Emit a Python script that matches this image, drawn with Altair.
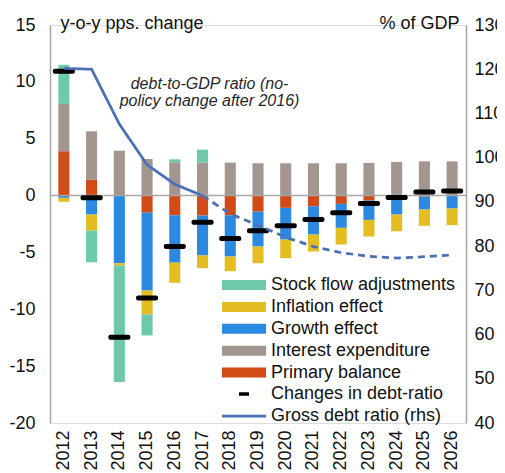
import altair as alt
import pandas as pd

# ---------------- data ----------------
years = [str(y) for y in range(2012, 2027)]
primary_balance = [3.9, 1.38, 0.0, -1.5, -1.73, -1.76, -1.73, -1.41, -1.08, -0.94, -0.73, -0.44, 0.0, -0.1, 0.0]
interest_exp = [4.16, 4.27, 3.95, 3.22, 2.93, 2.9, 2.9, 2.84, 2.84, 2.84, 2.84, 2.87, 2.96, 3.01, 3.01]
growth_eff = [-0.2, -1.67, -5.95, -6.85, -4.17, -3.51, -3.63, -3.07, -2.79, -2.49, -2.11, -1.7, -1.67, -1.13, -1.14]
inflation_eff = [-0.35, -1.4, -0.2, -2.1, -1.77, -1.12, -1.29, -1.47, -1.63, -1.49, -1.46, -1.46, -1.47, -1.43, -1.46]
stock_flow = [3.44, -2.8, -10.25, -1.85, 0.26, 1.14, 0, 0, 0, 0, 0, 0, 0, 0, 0]
debt_change = [10.93, -0.2, -12.45, -9.0, -4.48, -2.34, -3.78, -3.1, -2.66, -2.1, -1.5, -0.7, -0.18, 0.32, 0.41]
gross_debt = [120.2, 120.0, 107.6, 98.4, 94.0, 91.4, 87.3, 84.7, 82.0, 79.9, 78.5, 77.7, 77.3, 77.6, 78.0]
last_actual = "2017"

stack_names = ["Primary balance", "Interest expenditure", "Growth effect", "Inflation effect", "Stock flow adjustments"]
stack_values = [primary_balance, interest_exp, growth_eff, inflation_eff, stock_flow]
legend_names = ["Stock flow adjustments", "Inflation effect", "Growth effect", "Interest expenditure", "Primary balance"]
legend_colors = ["#6ec9aa", "#e3bd22", "#2b8ae0", "#a2968f", "#d24a16"]
dash_label = "Changes in debt-ratio"
line_label = "Gross debt ratio (rhs)"
line_color = "#4a70b8"

rows = []
for k, (name, vals) in enumerate(zip(stack_names, stack_values)):
    for yr, v in zip(years, vals):
        if v != 0:
            rows.append({"year": yr, "component": name, "value": v, "order": k})
bars_df = pd.DataFrame(rows)

change_df = pd.DataFrame({"year": years, "value": debt_change, "lab": dash_label})

split = years.index(last_actual)
line_rows = []
for i, (yr, d) in enumerate(zip(years, gross_debt)):
    if i <= split:
        line_rows.append({"year": yr, "debt": d, "seg": "actual", "lab": line_label})
    if i >= split:
        line_rows.append({"year": yr, "debt": d, "seg": "projection", "lab": line_label})
line_df = pd.DataFrame(line_rows)

zero_df = pd.DataFrame({"value": [0]})

# ---------------- styling ----------------
FONT = "Liberation Sans"
AXIS_GREY = "#a6a6a6"
TXT = "#111111"
left_dom = [-20, 15]
right_dom = [40, 130]

xscale = alt.Scale(domain=years, paddingInner=0.6, paddingOuter=0.3)
xenc = alt.X("year:N", scale=xscale,
             axis=alt.Axis(title=None, labelAngle=-90, labelFontSize=18, labelColor=TXT,
                           domain=False, ticks=False, tickSize=0, labelPadding=7, grid=False))
lscale = alt.Scale(domain=left_dom, nice=False, zero=False)
left_axis = alt.Axis(title="y-o-y pps. change", orient="left", values=list(range(-20, 16, 5)),
                     labelExpr="'' + datum.value",
                     grid=False, ticks=False, tickSize=0, labelPadding=15,
                     labelFontSize=18, labelColor=TXT,
                     domainColor=AXIS_GREY, domainWidth=1.5,
                     titleAngle=0, titleX=10, titleY=3, titleAlign="left",
                     titleBaseline="alphabetic", titleFontSize=18,
                     titleFontWeight="normal", titleColor=TXT)

# legend symbols: unit = 5 px (symbolSize 100); Vega centres the symbol 9 px from the legend's left
rect_sym = "M-1.8,-1H7H7V1H-1.8Z"      # 44 x 10 swatch
dash_sym = "M1.6,-0.35H3.6V0.35H1.6Z"  # small dash centred on the swatch
line_sym = "M-1.8,0H7"                 # 44 px line

def leg(y, sym, **kw):
    return alt.Legend(title=None, orient="none", legendX=172, legendY=y, padding=0,
                      labelFontSize=18, labelColor=TXT, labelOffset=31, rowPadding=3.9,
                      labelLimit=400, symbolSize=100, symbolType=sym, labelFont=FONT, **kw)

bars = alt.Chart(bars_df).mark_bar().encode(
    x=xenc,
    y=alt.Y("value:Q", stack="zero", scale=lscale, axis=left_axis),
    color=alt.Color("component:N", scale=alt.Scale(domain=legend_names, range=legend_colors),
                    legend=leg(251, rect_sym)),
    order=alt.Order("order:Q"),
)

zero_rule = alt.Chart(zero_df).mark_rule(color=AXIS_GREY, strokeWidth=1.5).encode(
    y=alt.Y("value:Q", scale=lscale, axis=left_axis)
)

ticks = alt.Chart(change_df).mark_tick(size=22, thickness=5, cornerRadius=2, opacity=1).encode(
    x=alt.X("year:N", scale=xscale),
    y=alt.Y("value:Q", scale=lscale, axis=left_axis),
    color=alt.Color("lab:N", scale=alt.Scale(domain=[dash_label], range=["#000000"]),
                    legend=leg(360, dash_sym, symbolOpacity=1)),
)

note = alt.Chart(zero_df).mark_text(
    fontSize=16, fontStyle="italic", align="center", baseline="alphabetic",
    lineHeight=17, color="#262626", dx=7, font=FONT
).encode(
    x=alt.datum(last_actual),
    y=alt.datum(9.37),
    text=alt.value(["debt-to-GDP ratio (no-", "policy change after 2016)"]),
)

left_layer = alt.layer(bars, zero_rule, ticks, note).resolve_scale(color="independent")

line = alt.Chart(line_df).mark_line(strokeWidth=2.75).encode(
    x=alt.X("year:N", scale=xscale),
    y=alt.Y("debt:Q", scale=alt.Scale(domain=right_dom, nice=False, zero=False),
            axis=alt.Axis(title="% of GDP", orient="right", values=list(range(40, 131, 10)),
                          grid=False, ticks=False, tickSize=0, labelPadding=8,
                          labelFontSize=18, labelColor=TXT,
                          domainColor=AXIS_GREY, domainWidth=1.5,
                          titleAngle=0, titleX=-7, titleY=3, titleAlign="right",
                          titleBaseline="alphabetic", titleFontSize=18,
                          titleFontWeight="normal", titleColor=TXT)),
    color=alt.Color("lab:N", scale=alt.Scale(domain=[line_label], range=[line_color]),
                    legend=leg(382, line_sym, symbolStrokeWidth=2.75)),
    strokeDash=alt.StrokeDash("seg:N", scale=alt.Scale(domain=["actual", "projection"],
                                                       range=[[1, 0], [7, 5]]), legend=None),
)

chart = alt.layer(left_layer, line).resolve_scale(
    y="independent", color="independent"
).properties(
    width=416, height=398,
    autosize=alt.AutoSizeParams(type="none"),
    padding={"left": 42, "top": 17, "right": 31, "bottom": 50},
    background="white",
).configure_view(stroke="transparent").configure(font=FONT)

chart.save("out.html", embed_options={"renderer": "svg", "actions": False})
